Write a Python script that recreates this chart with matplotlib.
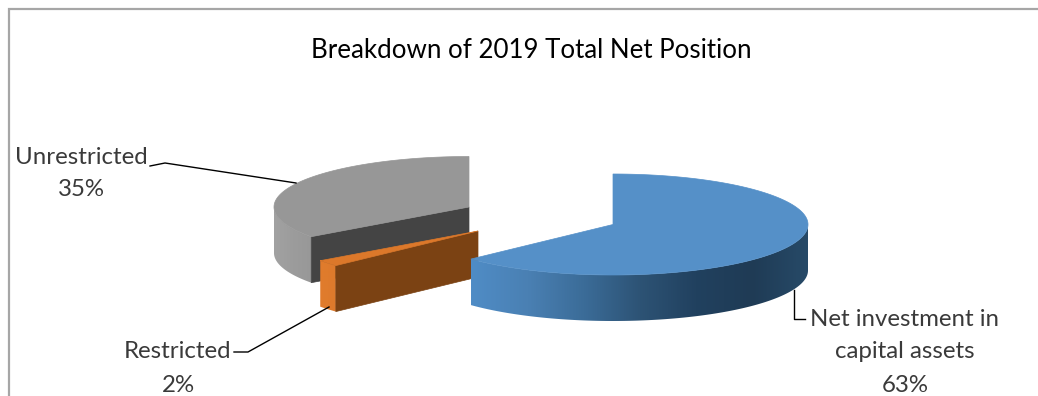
import numpy as np
import matplotlib
matplotlib.use("Agg")
import matplotlib.pyplot as plt
from matplotlib.colors import LinearSegmentedColormap
from matplotlib.patches import Polygon

# Chart content
title = "Breakdown of 2019 Total Net Position"
categories = ["Net investment in\ncapital assets", "Restricted", "Unrestricted"]
shares = [63, 2, 35]

# Projected pie geometry, in figure pixels
RX, RY, DEPTH = 195.0, 50.5, 46.0
centres = [(613, 224.5), (478, 231), (469, 207)]

plt.rcParams["font.family"] = ["Lato", "DejaVu Sans"]
W, H = 1038, 396
fig = plt.figure(figsize=(W / 100, H / 100), dpi=100)
ax = fig.add_axes([0, 0, 1, 1])
ax.axis("off")


def rim(c, a0, a1, n=160):
    """Points on the top ellipse, angles clockwise from twelve o'clock."""
    t = np.radians(np.linspace(a0, a1, n))
    return np.column_stack([c[0] + RX * np.sin(t), c[1] - RY * np.cos(t)])


def side(c, a0, a1, cmap, zorder):
    """Outer wall of a slice, shaded smoothly across its horizontal extent."""
    p = rim(c, max(a0, 90), min(a1, 270))
    outline = np.vstack([p, p[::-1] + [0, DEPTH]])
    shade = np.linspace(0, 1, 400)[None, :]
    img = ax.imshow(shade, cmap=cmap, aspect="auto", zorder=zorder,
                    extent=[outline[:, 0].min(), outline[:, 0].max(),
                            outline[:, 1].max(), outline[:, 1].min()])
    clip = Polygon(outline, closed=True, transform=ax.transData)
    img.set_clip_path(clip)


def top(c, a0, a1, colour, zorder):
    pts = np.vstack([[c], rim(c, a0, a1)])
    ax.add_patch(Polygon(pts, closed=True, fc=colour, ec=colour, lw=0.5, zorder=zorder))


def cut_face(c, angle, colour, zorder):
    e = rim(c, angle, angle, 1)[0]
    pts = [c, e, (e[0], e[1] + DEPTH), (c[0], c[1] + DEPTH)]
    ax.add_patch(Polygon(pts, closed=True, fc=colour, ec=colour, lw=0.5, zorder=zorder))


ax.set_xlim(0, W)
ax.set_ylim(H, 0)

# Slice boundaries follow from the shares
limits = np.cumsum([0] + shares) / sum(shares) * 360.0

blue_wall = LinearSegmentedColormap.from_list(
    "blue_wall", ["#4f8cc6", "#4a80b3", "#3b6c98", "#2d5375", "#21415f", "#1f3b55", "#274a68"])
grey_wall = LinearSegmentedColormap.from_list("grey_wall", ["#a2a2a2", "#9c9c9c", "#989898"])
orange_wall = LinearSegmentedColormap.from_list("orange_wall", ["#e17c2c", "#dd7a2c"])

# Unrestricted
side(centres[2], limits[2], limits[3], grey_wall, 1)
cut_face(centres[2], limits[2], "#444444", 2)
top(centres[2], limits[2], limits[3], "#979797", 3)

# Restricted
side(centres[1], limits[1], limits[2], orange_wall, 4)
cut_face(centres[1], limits[1], "#7b4213", 5)
top(centres[1], limits[1], limits[2], "#dc782a", 6)

# Net investment in capital assets
side(centres[0], limits[0], limits[1], blue_wall, 7)
top(centres[0], limits[0], limits[1], "#5590c8", 8)

ax.set_xlim(0, W)
ax.set_ylim(H, 0)

# Chart frame along the left and top edges
ax.plot([9, 9, W], [H, 9, 9], color="#a6a6a6", lw=1.6, zorder=0, solid_joinstyle="miter")

# Title and data labels
text_colour = "#3a3a3a"
ax.text(531, 50, title, ha="center", va="center", fontsize=18.6, color="black")
label_size = 17.3
label_style = dict(ha="center", va="center", fontsize=label_size, color=text_colour)
ax.text(81, 158, categories[2], **label_style)
ax.text(81, 190, f"{shares[2]}%", **label_style)
ax.text(178, 351, categories[1], **label_style)
ax.text(178, 385, f"{shares[1]}%", **label_style)
line1, line2 = categories[0].split("\n")
ax.text(905, 319, line1, **label_style)
ax.text(905, 352, line2, **label_style)
ax.text(905, 385, f"{shares[0]}%", **label_style)

# Leader lines
for xs, ys in [([150, 165, 296], [166, 163, 183]),
               ([234, 248, 329], [352, 352, 307]),
               ([794, 794, 805], [290, 319, 319])]:
    ax.plot(xs, ys, color="black", lw=1.0, zorder=9)

fig.savefig("out.png", dpi=100, facecolor="white")
